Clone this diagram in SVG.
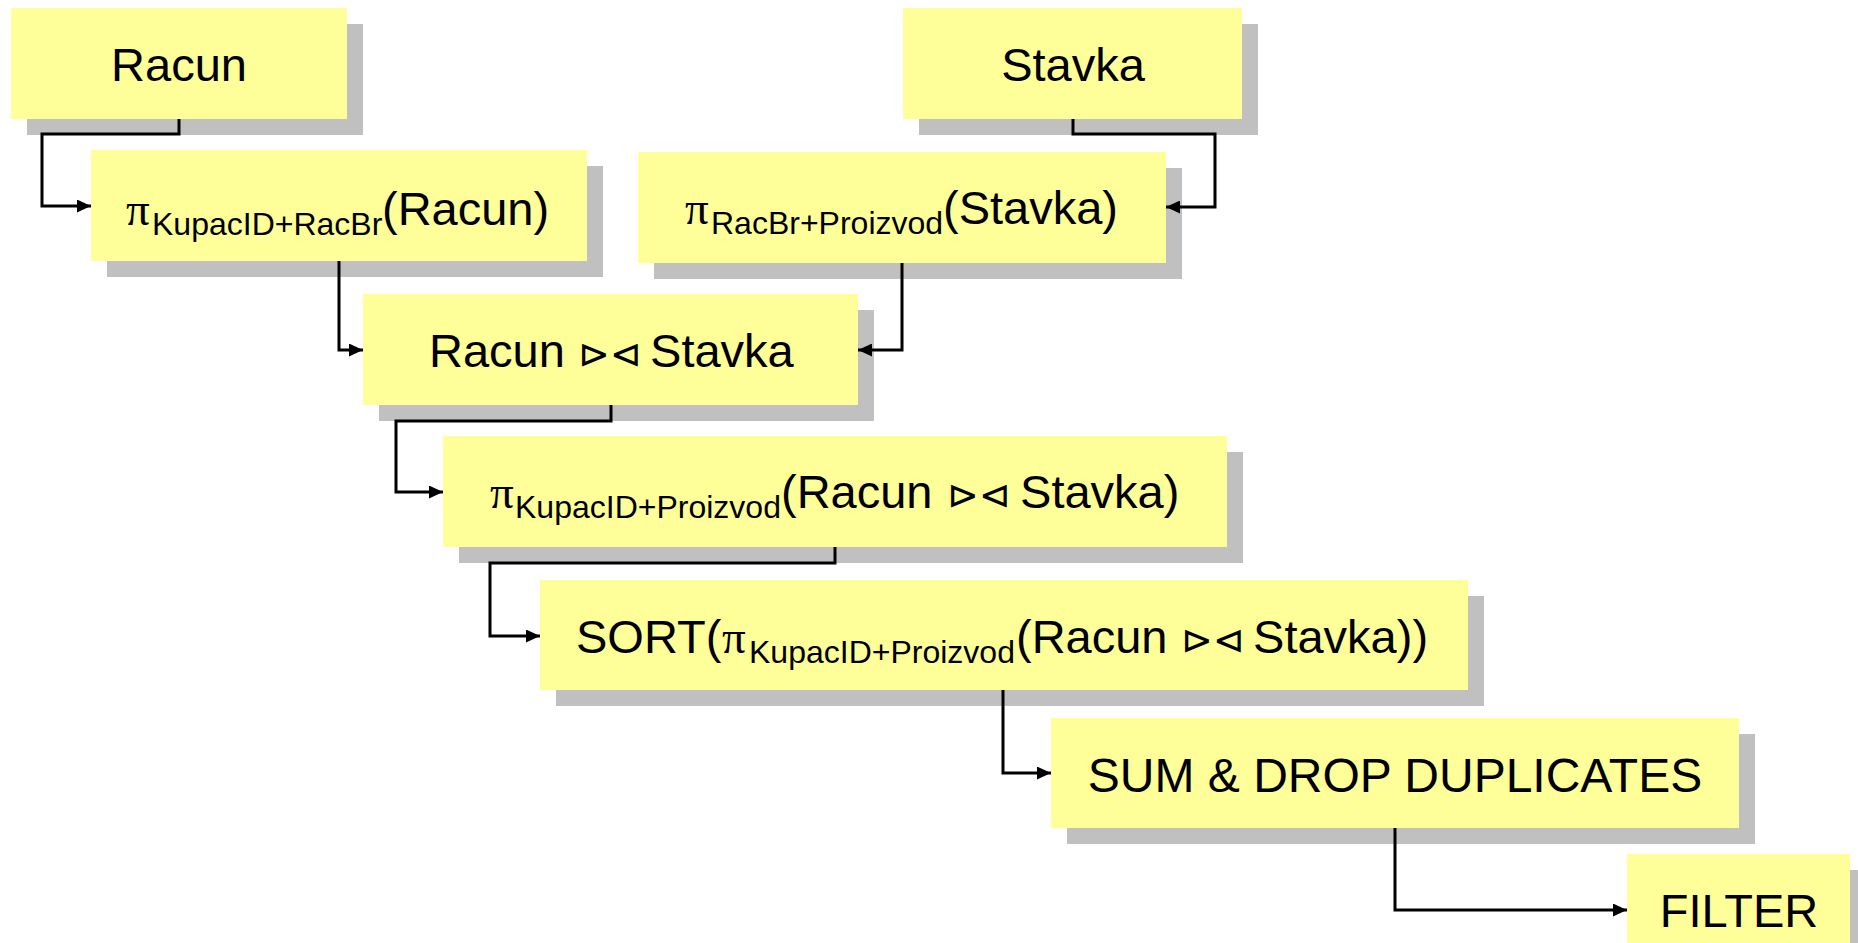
<svg xmlns="http://www.w3.org/2000/svg" width="1858" height="943" viewBox="0 0 1858 943">
<defs>
<marker id="ah" markerUnits="userSpaceOnUse" markerWidth="14" markerHeight="13" viewBox="0 0 14 13" refX="14" refY="6.5" orient="auto"><path d="M0,0 L14,6.5 L0,13 z" fill="#000"/></marker>
</defs>
<style>
.sh{fill:#C0C0C0}
.bx{fill:#FFFF99}
.t{font-family:"Liberation Sans",Arial,sans-serif;font-size:47px;fill:#000}
.pi{font-family:"Liberation Serif","Times New Roman",serif}
.sub{font-size:32px}
.tri{font-family:"DejaVu Sans",sans-serif;font-size:38px}
.c{fill:none;stroke:#000;stroke-width:3;marker-end:url(#ah)}
</style>
<rect x="0" y="0" width="1858" height="943" fill="#FFFFFF"/>
<g id="racun">
<rect class="sh" x="27" y="24" width="336" height="111"/>
<rect class="bx" x="11" y="8" width="336" height="111"/>
<text class="t" x="179" y="81" text-anchor="middle">Racun</text>
</g>
<g id="stavka">
<rect class="sh" x="919" y="24" width="339" height="111"/>
<rect class="bx" x="903" y="8" width="339" height="111"/>
<text class="t" x="1073" y="81" text-anchor="middle">Stavka</text>
</g>
<g id="pi-racun">
<rect class="sh" x="107" y="166" width="496" height="111"/>
<rect class="bx" x="91" y="150" width="496" height="111"/>
<text class="t"><tspan class="pi" x="126" y="225">π</tspan><tspan class="sub" x="152" y="235">KupacID+RacBr</tspan><tspan x="382" y="225">(Racun)</tspan></text>
</g>
<g id="pi-stavka">
<rect class="sh" x="654" y="168" width="528" height="111"/>
<rect class="bx" x="638" y="152" width="528" height="111"/>
<text class="t"><tspan class="pi" x="685" y="224">π</tspan><tspan class="sub" x="711" y="234">RacBr+Proizvod</tspan><tspan x="943" y="224">(Stavka)</tspan></text>
</g>
<g id="join">
<rect class="sh" x="379" y="310" width="495" height="111"/>
<rect class="bx" x="363" y="294" width="495" height="111"/>
<text class="t"><tspan x="429" y="367">Racun </tspan><tspan class="tri" x="578" y="367">⊳⊲</tspan><tspan x="637" y="367"> Stavka</tspan></text>
</g>
<g id="pi-join">
<rect class="sh" x="459" y="452" width="784" height="111"/>
<rect class="bx" x="443" y="436" width="784" height="111"/>
<text class="t"><tspan class="pi" x="490" y="508">π</tspan><tspan class="sub" x="515" y="518">KupacID+Proizvod</tspan><tspan x="781" y="508">(Racun </tspan><tspan class="tri" x="947" y="508">⊳⊲</tspan><tspan x="1007" y="508"> Stavka)</tspan></text>
</g>
<g id="sort">
<rect class="sh" x="556" y="596" width="928" height="110"/>
<rect class="bx" x="540" y="580" width="928" height="110"/>
<text class="t"><tspan x="576" y="653">SORT(</tspan><tspan class="pi" x="722" y="653">π</tspan><tspan class="sub" x="749" y="663">KupacID+Proizvod</tspan><tspan x="1016" y="653">(Racun </tspan><tspan class="tri" x="1181" y="653">⊳⊲</tspan><tspan x="1240" y="653"> Stavka))</tspan></text>
</g>
<g id="sum">
<rect class="sh" x="1067" y="734" width="688" height="110"/>
<rect class="bx" x="1051" y="718" width="688" height="110"/>
<text class="t" x="1395" y="792" text-anchor="middle" style="font-size:48px">SUM &amp; DROP DUPLICATES</text>
</g>
<g id="filter">
<rect class="sh" x="1643" y="870" width="223" height="111"/>
<rect class="bx" x="1627" y="854" width="223" height="111"/>
<text class="t" x="1739" y="927" text-anchor="middle">FILTER</text>
</g>
<g id="connectors">
<path class="c" d="M179,119 V134 H42 V206 H91"/>
<path class="c" d="M1073,119 V134 H1215 V207 H1166"/>
<path class="c" d="M339,261 V350 H363"/>
<path class="c" d="M902,263 V350 H858"/>
<path class="c" d="M611,405 V421 H396 V492 H443"/>
<path class="c" d="M835,547 V563 H490 V636 H540"/>
<path class="c" d="M1003,690 V773 H1051"/>
<path class="c" d="M1395,828 V910 H1627"/>
</g>
</svg>
